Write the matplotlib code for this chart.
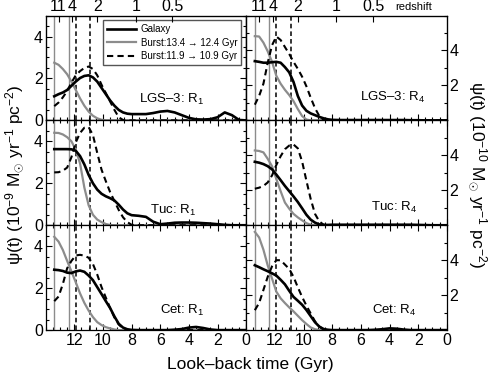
import matplotlib
matplotlib.use('Agg')
import matplotlib.pyplot as plt
from matplotlib.ticker import MultipleLocator, FixedLocator

plt.rcParams['font.family'] = ['Liberation Sans', 'DejaVu Sans']
plt.rcParams['mathtext.fontset'] = 'custom'
plt.rcParams['mathtext.rm'] = 'Liberation Sans'
plt.rcParams['mathtext.it'] = 'Liberation Sans:italic'

# look-back time grid (Gyr)
t_grid = [13.4, 13.1, 12.8, 12.5, 12.2, 11.9, 11.6, 11.3, 11.0, 10.7, 10.4, 10.1,
          9.8, 9.5, 9.2, 8.9, 8.6, 8.3, 8.0, 7.5, 7.0, 6.5, 6.0, 5.5, 5.0, 4.5,
          4.0, 3.5, 3.0, 2.5, 2.0, 1.5, 1.0, 0.5, 0.0]

# LGS-3 R1 (10^-9)
lgs_r1_gal = [1.15, 1.25, 1.33, 1.45, 1.65, 1.85, 2.02, 2.12, 2.15, 2.05, 1.85, 1.55,
              1.25, 0.95, 0.70, 0.50, 0.38, 0.32, 0.30, 0.30, 0.30, 0.35, 0.42, 0.45, 0.38, 0.25,
              0.12, 0.05, 0.04, 0.06, 0.15, 0.38, 0.25, 0.02, 0.0]
lgs_r1_b1 = [2.75, 2.65, 2.45, 2.20, 1.85, 1.45, 1.05, 0.70, 0.42, 0.22, 0.10, 0.03,
             0, 0, 0, 0, 0, 0, 0, 0, 0, 0, 0, 0, 0, 0, 0, 0, 0, 0, 0, 0, 0, 0, 0]
lgs_r1_b2 = [0.68, 0.85, 1.10, 1.40, 1.80, 2.15, 2.35, 2.50, 2.57, 2.45, 2.15, 1.70,
             1.30, 0.90, 0.50, 0.15, 0.02, 0, 0, 0, 0, 0, 0, 0, 0, 0, 0, 0, 0, 0, 0, 0, 0, 0, 0]

# LGS-3 R4 (10^-10)
lgs_r4_gal = [3.39, 3.35, 3.30, 3.30, 3.33, 3.35, 3.30, 3.05, 2.75, 2.20, 1.40, 0.85,
              0.55, 0.40, 0.30, 0.20, 0.12, 0.06, 0.03, 0.02, 0.02, 0.02, 0.02, 0.02, 0.02, 0.02,
              0.02, 0.02, 0.02, 0.01, 0.01, 0.0, 0.0, 0.0, 0.0]
lgs_r4_b1 = [4.82, 4.80, 4.45, 3.95, 3.35, 2.55, 2.10, 1.75, 1.45, 1.10, 0.65, 0.25,
             0.05, 0, 0, 0, 0, 0, 0, 0, 0, 0, 0, 0, 0, 0, 0, 0, 0, 0, 0, 0, 0, 0, 0]
lgs_r4_b2 = [0.90, 1.40, 2.10, 3.30, 4.30, 4.80, 4.60, 4.20, 3.80, 3.35, 2.95, 2.50,
             1.95, 1.30, 0.70, 0.25, 0.03, 0, 0, 0, 0, 0, 0, 0, 0, 0, 0, 0, 0, 0, 0, 0, 0, 0, 0]

# Tuc R1 (10^-9)
tuc_r1_gal = [3.63, 3.63, 3.63, 3.63, 3.62, 3.55, 3.30, 2.90, 2.40, 2.00, 1.70, 1.50,
              1.38, 1.29, 1.18, 0.98, 0.75, 0.57, 0.48, 0.45, 0.40, 0.17, 0.05, 0.08, 0.12, 0.13,
              0.13, 0.12, 0.10, 0.08, 0.05, 0.02, 0.0, 0.0, 0.0]
tuc_r1_b1 = [4.41, 4.40, 4.33, 4.20, 4.00, 3.60, 2.95, 1.80, 0.95, 0.50, 0.27, 0.15,
             0.06, 0.01, 0, 0, 0, 0, 0, 0, 0, 0, 0, 0, 0, 0, 0, 0, 0, 0, 0, 0, 0, 0, 0]
tuc_r1_b2 = [2.52, 2.53, 2.60, 2.75, 3.25, 3.95, 4.40, 4.65, 4.68, 4.30, 3.45, 2.65,
             2.10, 1.58, 1.15, 0.73, 0.38, 0.15, 0.02, 0, 0, 0, 0, 0, 0, 0, 0, 0, 0, 0, 0, 0, 0, 0, 0]

# Tuc R4 (10^-10)
tuc_r4_gal = [3.63, 3.58, 3.50, 3.38, 3.20, 2.90, 2.58, 2.25, 1.95, 1.65, 1.33, 0.97,
              0.60, 0.32, 0.15, 0.05, 0.02, 0.02, 0.03, 0.03, 0.03, 0.03, 0.03, 0.03, 0.03, 0.03,
              0.03, 0.03, 0.03, 0.03, 0.02, 0.01, 0.0, 0.0, 0.0]
tuc_r4_b1 = [4.28, 4.25, 4.17, 3.80, 3.38, 2.65, 1.95, 1.30, 0.95, 0.65, 0.45, 0.28,
             0.12, 0.03, 0, 0, 0, 0, 0, 0, 0, 0, 0, 0, 0, 0, 0, 0, 0, 0, 0, 0, 0, 0, 0]
tuc_r4_b2 = [2.09, 2.15, 2.25, 2.45, 2.85, 3.45, 3.95, 4.35, 4.56, 4.62, 4.40, 3.65,
             2.55, 1.50, 0.65, 0.22, 0.03, 0, 0, 0, 0, 0, 0, 0, 0, 0, 0, 0, 0, 0, 0, 0, 0, 0, 0]

# Cet R1 (10^-9)
cet_r1_gal = [2.88, 2.86, 2.82, 2.74, 2.72, 2.80, 2.84, 2.78, 2.60, 2.38, 2.05, 1.72,
              1.38, 1.05, 0.65, 0.30, 0.12, 0.04, 0.01, 0.0, 0.0, 0.0, 0.0, 0.0, 0.02, 0.05,
              0.12, 0.15, 0.10, 0.03, 0.0, 0.0, 0.0, 0.0, 0.0]
cet_r1_b1 = [4.45, 4.22, 3.82, 3.30, 2.80, 2.28, 1.75, 1.30, 0.93, 0.62, 0.38, 0.24,
             0.14, 0.08, 0.03, 0, 0, 0, 0, 0, 0, 0, 0, 0, 0, 0, 0, 0, 0, 0, 0, 0, 0, 0, 0]
cet_r1_b2 = [1.38, 1.60, 2.20, 2.95, 3.30, 3.56, 3.59, 3.55, 3.45, 3.15, 2.65, 2.05,
             1.55, 1.05, 0.60, 0.27, 0.08, 0, 0, 0, 0, 0, 0, 0, 0, 0, 0, 0, 0, 0, 0, 0, 0, 0, 0]

# Cet R4 (10^-10)
cet_r4_gal = [3.71, 3.60, 3.48, 3.37, 3.25, 3.12, 2.88, 2.62, 2.25, 1.90, 1.68, 1.45,
              1.15, 0.80, 0.45, 0.20, 0.06, 0.02, 0.0, 0.0, 0.0, 0.0, 0.0, 0.0, 0.02, 0.05,
              0.10, 0.08, 0.03, 0.0, 0.0, 0.0, 0.0, 0.0, 0.0]
cet_r4_b1 = [5.62, 5.30, 4.60, 3.70, 2.95, 2.20, 1.82, 1.55, 1.30, 1.07, 0.82, 0.57,
             0.35, 0.15, 0.05, 0, 0, 0, 0, 0, 0, 0, 0, 0, 0, 0, 0, 0, 0, 0, 0, 0, 0, 0, 0]
cet_r4_b2 = [1.14, 1.55, 2.30, 3.05, 3.65, 4.00, 4.00, 3.75, 3.50, 3.05, 2.45, 1.90,
             1.40, 0.95, 0.50, 0.20, 0.05, 0, 0, 0, 0, 0, 0, 0, 0, 0, 0, 0, 0, 0, 0, 0, 0, 0, 0]

burst1 = (13.4, 12.4)
burst2 = (11.9, 10.9)
z_labels = ['11', '4', '2', '1', '0.5']
z_lookback = [13.1, 12.15, 10.4, 7.7, 5.15]

panels = [
    [('LGS–3: R$_1$', lgs_r1_gal, lgs_r1_b1, lgs_r1_b2),
     ('LGS–3: R$_4$', lgs_r4_gal, lgs_r4_b1, lgs_r4_b2)],
    [('Tuc: R$_1$', tuc_r1_gal, tuc_r1_b1, tuc_r1_b2),
     ('Tuc: R$_4$', tuc_r4_gal, tuc_r4_b1, tuc_r4_b2)],
    [('Cet: R$_1$', cet_r1_gal, cet_r1_b1, cet_r1_b2),
     ('Cet: R$_4$', cet_r4_gal, cet_r4_b1, cet_r4_b2)],
]
label_x = [[0.79, 0.89], [0.75, 0.85], [0.79, 0.85]]
label_y = [[0.20, 0.22], [0.14, 0.17], [0.19, 0.19]]

gray = '#8c8c8c'

fig, axes = plt.subplots(3, 2, figsize=(4.91, 3.79), dpi=100, sharex=True)
fig.subplots_adjust(left=0.093, right=0.910, top=0.959, bottom=0.129,
                    hspace=0, wspace=0)

for r in range(3):
    for c in range(2):
        ax = axes[r, c]
        name, gal, b1, b2 = panels[r][c]
        for x in burst1:
            ax.axvline(x, color=gray, lw=1.0)
        for x in burst2:
            ax.axvline(x, color='black', lw=1.1, ls=(0, (3, 2)))
        ax.plot(t_grid, b1, color=gray, lw=1.6, label='Burst:13.4 → 12.4 Gyr')
        ax.plot(t_grid, b2, color='black', lw=1.5, ls=(0, (3, 2)),
                label='Burst:11.9 → 10.9 Gyr')
        ax.plot(t_grid, gal, color='black', lw=1.9, label='Galaxy')
        ax.text(label_x[r][c], label_y[r][c], name, transform=ax.transAxes,
                ha='right', va='center', fontsize=9.5)

        ax.set_xlim(14, 0)
        ax.xaxis.set_major_locator(FixedLocator([12, 10, 8, 6, 4, 2, 0]))
        ax.xaxis.set_minor_locator(MultipleLocator(0.5))
        if c == 0:
            ax.set_ylim(0, 5)
            ax.yaxis.set_major_locator(FixedLocator([0, 2, 4]))
            ax.yaxis.set_minor_locator(MultipleLocator(0.5))
            ax.tick_params(axis='y', which='both', labelleft=True, labelright=False)
        else:
            ax.set_ylim(0, 6)
            ax.yaxis.set_major_locator(FixedLocator([2, 4]))
            ax.yaxis.set_minor_locator(MultipleLocator(1))
            ax.tick_params(axis='y', which='both', labelleft=False, labelright=True)
        ax.tick_params(which='both', direction='in', top=(r > 0), bottom=True,
                       left=True, right=True, labelsize=11.5, pad=2, width=0.8)
        ax.tick_params(which='major', length=4.5)
        ax.tick_params(which='minor', length=2.5)
        for s in ax.spines.values():
            s.set_linewidth(0.9)

        if r == 0:
            top = ax.twiny()
            top.set_xlim(14, 0)
            top.set_xticks(z_lookback)
            top.set_xticklabels(z_labels)
            top.tick_params(direction='in', length=4, labelsize=11.5, pad=1, width=0.8)

# legend in the top-left panel
h, l = axes[0, 0].get_legend_handles_labels()
order = [2, 0, 1]
axes[0, 0].legend([h[i] for i in order], [l[i] for i in order], loc='upper right',
                  bbox_to_anchor=(0.975, 0.955), fontsize=7, frameon=True,
                  fancybox=False, edgecolor='#555555', framealpha=1,
                  handlelength=3.0, borderpad=0.4, labelspacing=0.35,
                  handletextpad=0.5, borderaxespad=0)

fig.text(0.51, 0.018, 'Look–back time (Gyr)', ha='center', va='bottom', fontsize=12.5)
fig.text(0.008, 0.54, r'ψ(t) (10$^{-9}$ M$_{\odot}$ yr$^{-1}$ pc$^{-2}$)',
         rotation=90, ha='left', va='center', fontsize=12.5)
fig.text(0.995, 0.54, r'ψ(t) (10$^{-10}$ M$_{\odot}$ yr$^{-1}$ pc$^{-2}$)',
         rotation=-90, ha='right', va='center', fontsize=12.5)
fig.text(0.805, 0.968, 'redshift', ha='left', va='bottom', fontsize=8)

fig.savefig('out.png', dpi=100)
